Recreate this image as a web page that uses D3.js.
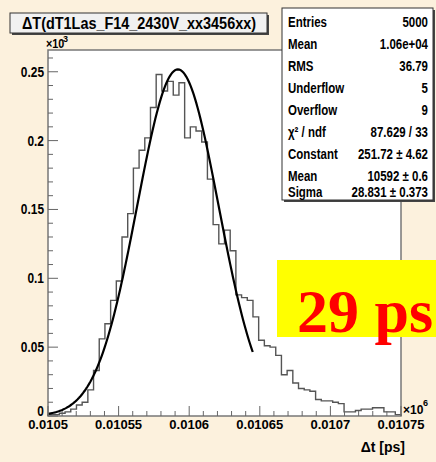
<!DOCTYPE html>
<html>
<head>
<meta charset="utf-8">
<script src="https://cdn.jsdelivr.net/npm/d3@7"></script>
<style>
  body { margin: 0; background: #fcf1dd; }
  svg { display: block; }
</style>
</head>
<body>
<script>
// histogram: 62 bins between 0.0105 and 0.01075 (x10^6 ps), counts per bin
var binCounts = [1, 1, 2, 3, 5, 8, 10, 19, 33, 56, 67, 84, 98, 130, 147, 180, 193, 202, 224, 248,
                 236, 243, 233, 242, 202, 210, 207, 199, 172, 139, 125, 135, 120, 88, 86, 84, 72, 55, 51, 50,
                 44, 30, 33, 24, 20, 19, 18, 12, 11, 11, 10, 9, 3, 3, 4, 5, 5, 6, 6, 3, 3, 1];
var xRange = [0.0105, 0.01075];
var xTickLabels = ["0.0105", "0.01055", "0.0106", "0.01065", "0.0107", "0.01075"];
var yTickLabels = ["0", "0.05", "0.1", "0.15", "0.2", "0.25"];

// gaussian fit parameters (ps), fit range
var fitConstant = 251.72, fitMean = 10592, fitSigma = 28.831;
var fitRange = [10500, 10645];

var statNames = ["Entries", "Mean", "RMS", "Underflow", "Overflow", "\u03c7\u00b2 / ndf", "Constant", "Mean", "Sigma"];
var statValues = ["5000", "1.06e+04", "36.79", "5", "9", "87.629 / 33", "251.72 \u00b1 4.62", "10592 \u00b1 0.6", "28.831 \u00b1 0.373"];

var W = 436, H = 462;
var svg = d3.select("body").append("svg").attr("width", W).attr("height", H);
svg.append("rect").attr("width", W).attr("height", H).attr("fill", "#fcf1dd");

var x = d3.scaleLinear().domain(xRange).range([48, 401]);
var y = d3.scaleLinear().domain([0, 0.2658]).range([416, 50]);

// helper for horizontally squeezed text
function txt(g, px, py, s, o) {
    o = o || {};
    return g.append("text")
        .attr("transform", "translate(" + px + "," + py + ") scale(" + (o.sx || 1) + ",1)")
        .attr("text-anchor", o.anchor || "start")
        .attr("font-family", o.family || "'Liberation Sans', Arial, sans-serif")
        .attr("font-weight", o.weight || "bold")
        .attr("font-size", o.size || 14)
        .attr("fill", o.fill || "#000")
        .text(s);
}

// plot frame
svg.append("rect")
    .attr("x", x(xRange[0])).attr("y", y.range()[1])
    .attr("width", x(xRange[1]) - x(xRange[0]))
    .attr("height", y.range()[0] - y.range()[1])
    .attr("fill", "#fff");

// histogram outline
var nb = binCounts.length;
var bw = (xRange[1] - xRange[0]) / nb;
var pts = [[xRange[0], 0]];
binCounts.forEach(function(c, i) { pts.push([xRange[0] + i * bw, c / 1000]); });
pts.push([xRange[1], binCounts[nb - 1] / 1000]);
pts.push([xRange[1], 0]);
var histLine = d3.line().x(function(d) { return x(d[0]); }).y(function(d) { return y(d[1]); }).curve(d3.curveStepAfter);
svg.append("path").attr("d", histLine(pts))
    .attr("fill", "none").attr("stroke", "#555").attr("stroke-width", 1.4);

// fit curve
var fitPts = d3.range(fitRange[0], fitRange[1] + 0.5, 1).map(function(t) {
    var z = (t - fitMean) / fitSigma;
    return [t / 1e6, fitConstant * Math.exp(-0.5 * z * z) / 1000];
});
svg.append("path").attr("d", d3.line().x(function(d) { return x(d[0]); }).y(function(d) { return y(d[1]); })(fitPts))
    .attr("fill", "none").attr("stroke", "#000").attr("stroke-width", 2.2);

// frame border
svg.append("rect")
    .attr("x", x(xRange[0])).attr("y", y.range()[1])
    .attr("width", x(xRange[1]) - x(xRange[0]))
    .attr("height", y.range()[0] - y.range()[1])
    .attr("fill", "none").attr("stroke", "#777").attr("stroke-width", 1.5);

// ticks
var axisG = svg.append("g").attr("stroke", "#666").attr("stroke-width", 1);
d3.range(0, 26).forEach(function(i) {
    var v = xRange[0] + i * 0.00001;
    var len = (i % 5 == 0) ? 10 : 5;
    axisG.append("line").attr("x1", x(v)).attr("x2", x(v)).attr("y1", 416).attr("y2", 416 - len);
});
d3.range(0, 27).forEach(function(i) {
    var v = i * 0.01;
    var len = (i % 5 == 0) ? 10 : 5;
    axisG.append("line").attr("x1", 48).attr("x2", 48 + len).attr("y1", y(v)).attr("y2", y(v));
});

// tick labels
xTickLabels.forEach(function(s, i) {
    txt(svg, x(xRange[0] + i * 0.00005), 429, s, {anchor: "middle", size: 13});
});
yTickLabels.forEach(function(s, i) {
    var dy = (i == 0) ? 0 : 5;
    txt(svg, 44, y(i * 0.05) + dy, s, {anchor: "end", size: 14, sx: 0.85});
});

// exponents and axis title
txt(svg, 46, 48, "\u00d710", {size: 12, sx: 0.9});
txt(svg, 63, 42, "3", {size: 9});
txt(svg, 403, 414, "\u00d710", {size: 12});
txt(svg, 423, 406, "6", {size: 9});
txt(svg, 405, 452, "\u0394t [ps]", {anchor: "end", size: 14});

// title box
svg.append("rect").attr("x", 12).attr("y", 15).attr("width", 257).attr("height", 20).attr("fill", "#444");
svg.append("rect").attr("x", 10).attr("y", 13).attr("width", 257).attr("height", 20)
    .attr("fill", "#f1f1f1").attr("stroke", "#333").attr("stroke-width", 1);
txt(svg, 139, 29, "\u0394T(dT1Las_F14_2430V_xx3456xx)", {anchor: "middle", size: 16})
    .attr("textLength", 234).attr("lengthAdjust", "spacingAndGlyphs");

// stats box
svg.append("rect").attr("x", 284).attr("y", 10).attr("width", 151).attr("height", 192).attr("fill", "#444");
svg.append("rect").attr("x", 282).attr("y", 8).attr("width", 151).attr("height", 192)
    .attr("fill", "#fff").attr("stroke", "#333").attr("stroke-width", 1);
var rowY = [26.5, 48.5, 70.5, 93, 115, 137, 159, 180.5, 197];
statNames.forEach(function(s, i) {
    txt(svg, 288, rowY[i], s, {size: 14, sx: 0.82});
    txt(svg, 428, rowY[i], statValues[i], {anchor: "end", size: 14, sx: 0.82});
});

// resolution label
svg.append("rect").attr("x", 277).attr("y", 260).attr("width", 160).attr("height", 77).attr("fill", "#ffff00");
txt(svg, 297, 332, "29 ps", {family: "'Liberation Serif', 'Times New Roman', serif", size: 62, fill: "#ff0000"});
</script>
</body>
</html>
